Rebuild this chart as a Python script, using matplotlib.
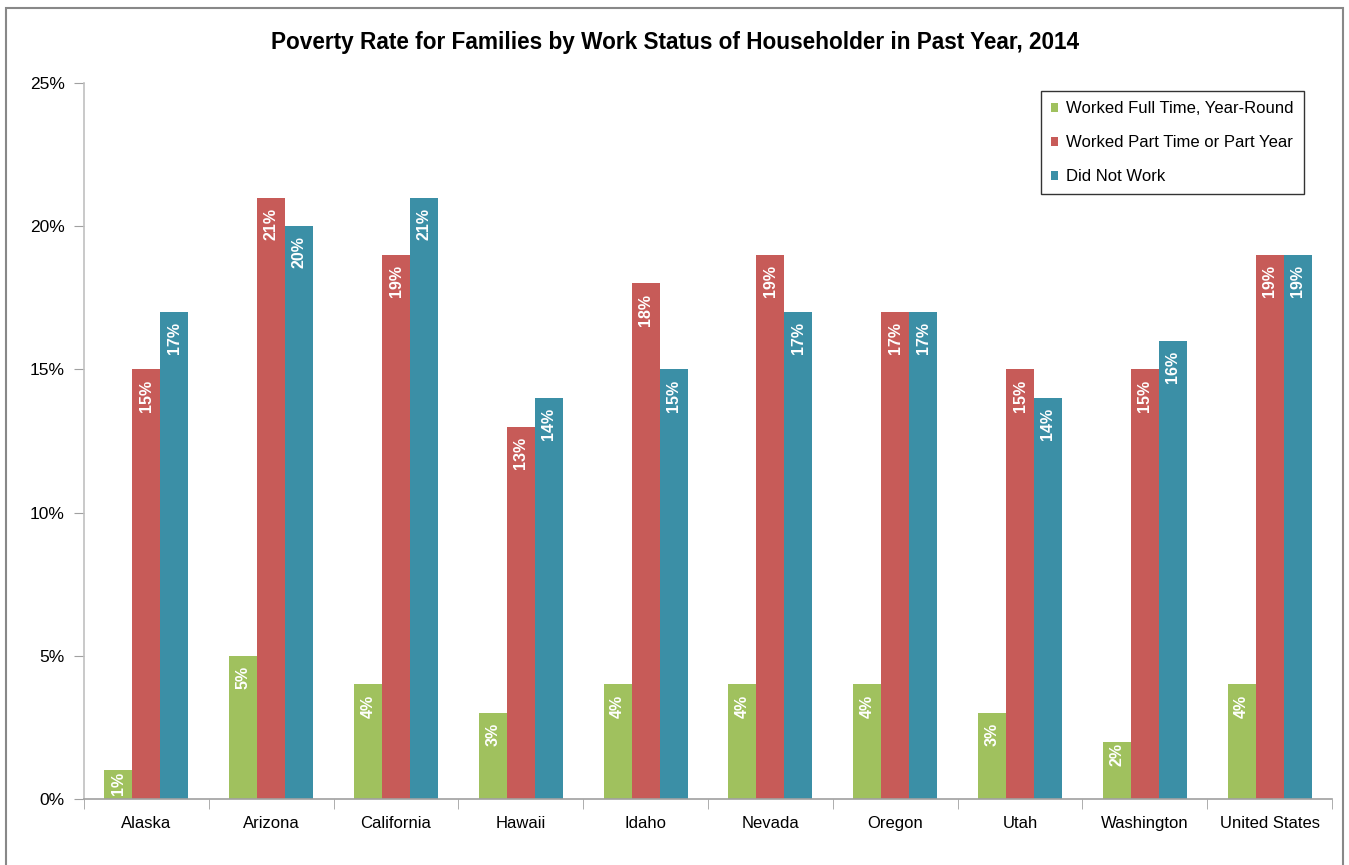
import matplotlib
matplotlib.use("Agg")
import matplotlib.pyplot as plt
import numpy as np
from matplotlib.patches import Rectangle
from matplotlib import font_manager

names = {f.name for f in font_manager.fontManager.ttflist}
narrow = "Liberation Sans Narrow" if "Liberation Sans Narrow" in names else "Liberation Sans"

categories = ["Alaska", "Arizona", "California", "Hawaii", "Idaho", "Nevada",
              "Oregon", "Utah", "Washington", "United States"]
full_time = [1, 5, 4, 3, 4, 4, 4, 3, 2, 4]
part_time = [15, 21, 19, 13, 18, 19, 17, 15, 15, 19]
did_not_work = [17, 20, 21, 14, 15, 17, 17, 14, 16, 19]
series_names = ["Worked Full Time, Year-Round", "Worked Part Time or Part Year", "Did Not Work"]
colors = ["#A0C15E", "#C75B58", "#3B8FA6"]

plt.rcParams['font.family'] = ['Liberation Sans', 'DejaVu Sans']

fig = plt.figure(figsize=(13.49, 8.65), dpi=100)
ax = fig.add_axes([84/1349, 1-799/865, (1332-84)/1349, (799-83)/865])

x = np.arange(len(categories))
w = 0.224
for i, (vals, nm, c) in enumerate(zip([full_time, part_time, did_not_work], series_names, colors)):
    pos = x + (i - 1) * w
    ax.bar(pos, vals, w, color=c, label=nm, edgecolor='none')
    for xp, v in zip(pos, vals):
        off = 0.35 if v > 2 else 0.05
        ax.text(xp, v - off, f"{v}%", rotation=90, ha='center', va='top',
                color='white', fontweight='bold', fontsize=11.5, family=[narrow, 'DejaVu Sans'])

ax.set_xlim(-0.5, len(categories) - 0.5)
ax.set_ylim(0, 25)
ax.set_yticks(np.arange(0, 26, 5))
ax.set_yticklabels([f"{t}%" for t in range(0, 26, 5)], fontsize=12.5)
ax.set_xticks(x)
ax.set_xticklabels(categories, fontsize=12)
ax.set_xticks(np.arange(-0.5, len(categories)), minor=True)
ax.tick_params(axis='x', which='major', length=0, pad=12)
ax.tick_params(axis='x', which='minor', length=7, color='#A0A0A0', direction='out')
ax.tick_params(axis='y', length=7, color='#A0A0A0', direction='out', pad=7)

for s in ['top', 'right']:
    ax.spines[s].set_visible(False)
ax.spines['left'].set_color('#C0C0C0')
ax.spines['left'].set_linewidth(1.2)
ax.spines['bottom'].set_color('#A0A0A0')
ax.spines['bottom'].set_linewidth(1.2)

leg = ax.legend(loc='upper right', bbox_to_anchor=(1304/1349, 1-91/865), bbox_transform=fig.transFigure,
                fontsize=12, frameon=True, fancybox=False, handlelength=0.45, handleheight=0.45,
                handletextpad=0.5, labelspacing=1.15, borderpad=0.6, borderaxespad=0)
leg.get_frame().set_edgecolor('black')
leg.get_frame().set_linewidth(1.0)

fig.text(675/1349, 1-42/865, "Poverty Rate for Families by Work Status of Householder in Past Year, 2014",
         ha='center', va='center', fontsize=16.3, fontweight='bold', family=[narrow, 'DejaVu Sans'])

fig.patches.append(Rectangle((6/1349, -0.05), (1343-6)/1349, 1.05 - 8/865, transform=fig.transFigure,
                             fill=False, edgecolor='#888888', linewidth=1.5))

fig.savefig("out.png", dpi=100)
